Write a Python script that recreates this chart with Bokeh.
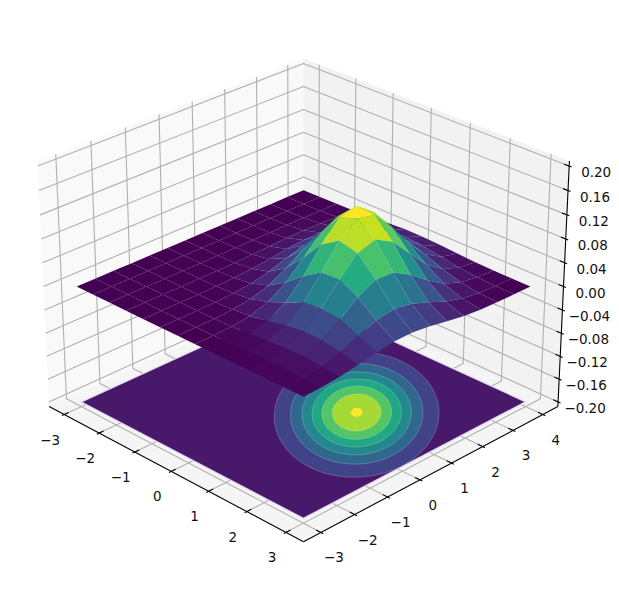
import math
from bokeh.core.properties import value
from bokeh.embed import file_html
from bokeh.models import Range1d
from bokeh.palettes import Viridis256
from bokeh.plotting import figure
from bokeh.resources import INLINE

# ---- data ----
x_nodes = [-3.0, -2.538, -2.077, -1.615, -1.154, -0.692, -0.231, 0.231, 0.692, 1.154, 1.615, 2.077, 2.538, 3.0]
y_nodes = [-3.0, -2.462, -1.923, -1.385, -0.846, -0.308, 0.231, 0.769, 1.308, 1.846, 2.385, 2.923, 3.462, 4.0]
z_row_0 = [0, 0, 0, 0, 0, 0, 0, 0, .0001, .0003, .0005, .0007, .0007, .0005]
z_row_1 = [0, 0, 0, 0, 0, 0, .0001, .0003, .0007, .0014, .0022, .0026, .0024, .0017]
z_row_2 = [0, 0, 0, 0, 0, .0001, .0004, .0013, .0031, .0055, .0076, .0082, .0068, .0044]
z_row_3 = [0, 0, 0, 0, .0001, .0005, .0018, .0049, .0103, .0167, .0210, .0204, .0153, .0090]
z_row_4 = [0, 0, 0, .0001, .0005, .0019, .0059, .0145, .0274, .0403, .0457, .0402, .0274, .0145]
z_row_5 = [0, 0, 0, .0003, .0014, .0053, .0152, .0337, .0578, .0768, .0790, .0629, .0388, .0186]
z_row_6 = [0, 0, .0001, .0008, .0036, .0120, .0310, .0622, .0966, .1162, .1083, .0781, .0436, .0189]
z_row_7 = [0, .0001, .0004, .0018, .0071, .0214, .0501, .0911, .1281, .1394, .1176, .0768, .0389, .0152]
z_row_8 = [0, .0001, .0007, .0031, .0110, .0303, .0643, .1057, .1345, .1326, .1012, .0598, .0275, .0097]
z_row_9 = [0, .0002, .0010, .0043, .0137, .0340, .0654, .0973, .1121, .1001, .0692, .0371, .0154, .0049]
z_row_10 = [0, .0003, .0012, .0047, .0135, .0303, .0527, .0710, .0741, .0599, .0375, .0182, .0068, .0020]
z_row_11 = [0, .0003, .0012, .0040, .0105, .0214, .0337, .0411, .0388, .0284, .0161, .0071, .0024, .0006]
z_row_12 = [0, .0002, .0009, .0027, .0065, .0120, .0171, .0188, .0161, .0107, .0055, .0022, .0007, .0002]
z_row_13 = [0, .0001, .0005, .0015, .0032, .0053, .0069, .0069, .0053, .0032, .0015, .0005, .0001, 0]
z_rows = [z_row_0, z_row_1, z_row_2, z_row_3, z_row_4, z_row_5, z_row_6, z_row_7,
          z_row_8, z_row_9, z_row_10, z_row_11, z_row_12, z_row_13]

floor_z = -0.2
contour_center = (1.0, 1.0)
contour_spread = ((1.0, 0.0), (-0.5, 1.118))
contour_scales = [1.981, 1.593, 1.315, 1.074, 0.841, 0.585, 0.135]
contour_levels = [0.0, 0.02, 0.04, 0.06, 0.08, 0.10, 0.12, 0.14, 0.16]

x_ticks = [-3, -2, -1, 0, 1, 2, 3]
y_ticks = [-3, -2, -1, 0, 1, 2, 3, 4]
z_ticks = [-0.20, -0.16, -0.12, -0.08, -0.04, 0.0, 0.04, 0.08, 0.12, 0.16, 0.20]
x_tick_labels = ["−3", "−2", "−1", "0", "1", "2", "3"]
y_tick_labels = ["−3", "−2", "−1", "0", "1", "2", "3", "4"]
z_tick_labels = ["−0.20", "−0.16", "−0.12", "−0.08", "−0.04", "0.00", "0.04", "0.08", "0.12", "0.16", "0.20"]

# ---- 3D view ----
XLIM = (-3.44, 3.44)
YLIM = (-3.51, 4.51)
ZLIM = (-0.2083, 0.2083)
ELEV, AZIM, DIST = 27.5, -45.0, 10.0
BOX = (1.255, 1.255, 0.961)
SX, CX, SY, CY = 2930.0, 303.0, 2880.0, 286.0  # projected units to page pixels

el, az = math.radians(ELEV), math.radians(AZIM)
W = (math.cos(el) * math.cos(az), math.cos(el) * math.sin(az), math.sin(el))
U = (-math.sin(az), math.cos(az), 0.0)
V = (-math.sin(el) * math.cos(az), -math.sin(el) * math.sin(az), math.cos(el))


def project(x, y, z):
    r = ((x - XLIM[0]) / (XLIM[1] - XLIM[0]) * BOX[0] - BOX[0] / 2,
         (y - YLIM[0]) / (YLIM[1] - YLIM[0]) * BOX[1] - BOX[1] / 2,
         (z - ZLIM[0]) / (ZLIM[1] - ZLIM[0]) * BOX[2] - BOX[2] / 2)
    d = DIST - sum(a * b for a, b in zip(W, r))
    return (sum(a * b for a, b in zip(U, r)) / d,
            sum(a * b for a, b in zip(V, r)) / d,
            d)


def poly(points):
    pr = [project(*q) for q in points]
    return [q[0] for q in pr], [q[1] for q in pr], sum(q[2] for q in pr) / len(pr)


def viridis(t):
    return Viridis256[max(0, min(255, int(round(t * 255))))]


WIDTH, HEIGHT = 619, 590
p = figure(width=WIDTH, height=HEIGHT, output_backend="svg", toolbar_location=None,
           x_range=Range1d(-CX / SX, (WIDTH - CX) / SX),
           y_range=Range1d((CY - HEIGHT) / SY, CY / SY),
           min_border=0, outline_line_color=None, background_fill_color="white")
p.axis.visible = False
p.grid.visible = False
x0, x1 = XLIM
y0, y1 = YLIM
z0, z1 = ZLIM

# panes
for corners, col in [
    ([(x0, y0, z0), (x0, y1, z0), (x0, y1, z1), (x0, y0, z1)], "#f9f9f9"),
    ([(x0, y1, z0), (x1, y1, z0), (x1, y1, z1), (x0, y1, z1)], "#f2f2f2"),
    ([(x0, y0, z0), (x1, y0, z0), (x1, y1, z0), (x0, y1, z0)], "#f5f5f5"),
]:
    xs, ys, _ = poly(corners)
    p.patch(xs, ys, fill_color=col, line_color=None)

# grid
gx, gy = [], []
for t in x_ticks:
    xs, ys, _ = poly([(t, y0, z0), (t, y1, z0), (t, y1, z1)])
    gx.append(xs); gy.append(ys)
for t in y_ticks:
    xs, ys, _ = poly([(x1, t, z0), (x0, t, z0), (x0, t, z1)])
    gx.append(xs); gy.append(ys)
for t in z_ticks:
    xs, ys, _ = poly([(x0, y0, t), (x0, y1, t), (x1, y1, t)])
    gx.append(xs); gy.append(ys)
p.multi_line(gx, gy, line_color="#b0b0b0", line_width=1.1)

# axis lines and ticks
ax, ay = [], []
for seg in [[(x0, y0, z0), (x1, y0, z0)], [(x1, y0, z0), (x1, y1, z0)], [(x1, y1, z0), (x1, y1, z1)]]:
    xs, ys, _ = poly(seg)
    ax.append(xs); ay.append(ys)
for t in x_ticks:
    xs, ys, _ = poly([(t, y0 - 0.065, z0), (t, y0 + 0.13, z0)])
    ax.append(xs); ay.append(ys)
for t in y_ticks:
    xs, ys, _ = poly([(x1 + 0.06, t, z0), (x1 - 0.12, t, z0)])
    ax.append(xs); ay.append(ys)
for t in z_ticks:
    xs, ys, _ = poly([(x1 + 0.06, y1, t), (x1 - 0.12, y1, t)])
    ax.append(xs); ay.append(ys)
p.multi_line(ax, ay, line_color="black", line_width=1.1)

# tick labels
lab = dict(text_font=value("DejaVu Sans"), text_font_size="13.5px", text_color="#111111",
           text_align="center", text_baseline="middle")
pts = [project(t, y0, z0) for t in x_ticks]
p.text([q[0] for q in pts], [q[1] for q in pts], text=x_tick_labels, x_offset=-14, y_offset=25, **lab)
pts = [project(x1, t, z0) for t in y_ticks]
p.text([q[0] for q in pts], [q[1] for q in pts], text=y_tick_labels, x_offset=13, y_offset=25, **lab)
pts = [project(x1, y1, t) for t in z_ticks]
p.text([q[0] for q in pts], [q[1] for q in pts], text=z_tick_labels, x_offset=27, y_offset=6, **lab)

# contour on the floor
mids = [0.5 * (a + b) for a, b in zip(contour_levels[:-1], contour_levels[1:])]
vmax = mids[-1]
xs, ys, _ = poly([(x_nodes[0], y_nodes[0], floor_z), (x_nodes[-1], y_nodes[0], floor_z),
                  (x_nodes[-1], y_nodes[-1], floor_z), (x_nodes[0], y_nodes[-1], floor_z)])
p.patch(xs, ys, fill_color=viridis(mids[0] / vmax), line_color="#e4d8f0", line_width=1.2)
(a11, a12), (a21, a22) = contour_spread
for i, s in enumerate(contour_scales):
    ring = []
    for k in range(120):
        c, n = math.cos(2 * math.pi * k / 120), math.sin(2 * math.pi * k / 120)
        ring.append((contour_center[0] + s * (a11 * c + a12 * n),
                     contour_center[1] + s * (a21 * c + a22 * n), floor_z))
    xs, ys, _ = poly(ring)
    p.patch(xs, ys, fill_color=viridis(mids[i + 1] / vmax), line_color="white", line_alpha=0.3, line_width=0.7)

# surface
faces = []
for j in range(len(y_nodes) - 1):
    for i in range(len(x_nodes) - 1):
        cell = [(x_nodes[i], y_nodes[j], z_rows[j][i]),
                (x_nodes[i + 1], y_nodes[j], z_rows[j][i + 1]),
                (x_nodes[i + 1], y_nodes[j + 1], z_rows[j + 1][i + 1]),
                (x_nodes[i], y_nodes[j + 1], z_rows[j + 1][i])]
        xs, ys, depth = poly(cell)
        faces.append((depth, xs, ys, sum(q[2] for q in cell) / 4))
faces.sort(key=lambda f: -f[0])
zmax = max(f[3] for f in faces)
p.patches([f[1] for f in faces], [f[2] for f in faces],
          fill_color=[viridis(f[3] / zmax) for f in faces], line_color=None)

open("out.html", "w").write(file_html(p, INLINE))
